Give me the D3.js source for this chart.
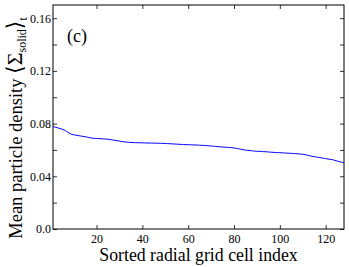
<!DOCTYPE html>
<html>
<head>
<meta charset="utf-8">
<script src="https://cdn.jsdelivr.net/npm/d3@7"></script>
<style>
  body { margin: 0; background: #fff; }
  text { font-family: "Liberation Serif", "DejaVu Serif", serif; fill: #000; }
</style>
</head>
<body>
<svg id="chart" width="349" height="267"></svg>
<script>
// sorted mean density per radial cell (index 1..128)
var density = [
  0.0777, 0.0773, 0.0768, 0.0763, 0.0757, 0.0750, 0.0740, 0.0728, 0.0719, 0.0715,
  0.0712, 0.0709, 0.0706, 0.0703, 0.0700, 0.0697, 0.0693, 0.0690, 0.0688, 0.0687,
  0.0686, 0.0685, 0.0684, 0.0683, 0.0681, 0.0679, 0.0676, 0.0673, 0.0670, 0.0667,
  0.0664, 0.0662, 0.0660, 0.0658, 0.0657, 0.0656, 0.0655, 0.0655, 0.0654, 0.0654,
  0.0653, 0.0653, 0.0652, 0.0652, 0.0652, 0.0651, 0.0651, 0.0650, 0.0650, 0.0649,
  0.0648, 0.0647, 0.0646, 0.0645, 0.0644, 0.0643, 0.0642, 0.0641, 0.0640, 0.0640,
  0.0639, 0.0638, 0.0638, 0.0637, 0.0636, 0.0635, 0.0634, 0.0633, 0.0631, 0.0630,
  0.0628, 0.0627, 0.0625, 0.0624, 0.0622, 0.0621, 0.0620, 0.0619, 0.0617, 0.0615,
  0.0612, 0.0609, 0.0605, 0.0602, 0.0599, 0.0597, 0.0595, 0.0593, 0.0591, 0.0590,
  0.0589, 0.0588, 0.0587, 0.0586, 0.0585, 0.0583, 0.0582, 0.0581, 0.0580, 0.0579,
  0.0578, 0.0577, 0.0576, 0.0575, 0.0574, 0.0573, 0.0571, 0.0570, 0.0569, 0.0567,
  0.0564, 0.0560, 0.0556, 0.0552, 0.0549, 0.0546, 0.0543, 0.0540, 0.0537, 0.0534,
  0.0531, 0.0529, 0.0526, 0.0521, 0.0516, 0.0511, 0.0507, 0.0503
];
var xTicks = [20, 40, 60, 80, 100, 120];
var yTicks = [0.00, 0.02, 0.04, 0.06, 0.08, 0.10, 0.12, 0.14, 0.16];
var yLabelled = [0.00, 0.04, 0.08, 0.12, 0.16];

var margin = {top: 5, right: 5, bottom: 38, left: 53};
var W = 349, H = 267;
var w = W - margin.left - margin.right, h = H - margin.top - margin.bottom;
var serif = '"Liberation Serif", "DejaVu Serif", serif';

var svg = d3.select('#chart');
var g = svg.append('g').attr('transform', 'translate(' + margin.left + ',' + margin.top + ')');

var x = d3.scaleLinear().domain([1, 128]).range([0, w]);
var y = d3.scaleLinear().domain([0, 0.17]).range([h, 0]);

function fmtY(d) {
  if (yLabelled.indexOf(d) == -1) return '';
  return d == 0 ? '0.0' : d3.format('.2f')(d);
}

// inward ticks on all four sides
g.append('g').attr('class', 'ax')
  .attr('transform', 'translate(0,' + h + ')')
  .call(d3.axisBottom(x).tickValues(xTicks).tickSizeInner(-4).tickSizeOuter(0).tickPadding(5));
g.append('g').attr('class', 'ax')
  .call(d3.axisTop(x).tickValues(xTicks).tickSizeInner(-4).tickSizeOuter(0).tickFormat(''));
g.append('g').attr('class', 'ax')
  .call(d3.axisLeft(y).tickValues(yTicks).tickSizeInner(-4).tickSizeOuter(0).tickPadding(2).tickFormat(fmtY));
g.append('g').attr('class', 'ax')
  .attr('transform', 'translate(' + w + ',0)')
  .call(d3.axisRight(y).tickValues(yTicks).tickSizeInner(-4).tickSizeOuter(0).tickFormat(''));

g.selectAll('.ax').attr('font-family', serif).attr('font-size', 12);
g.selectAll('.ax .domain').remove();
g.selectAll('.ax line').attr('stroke', '#333');

g.append('rect')
  .attr('x', 0).attr('y', 0).attr('width', w).attr('height', h)
  .attr('fill', 'none').attr('stroke', '#000').attr('stroke-width', 1);

var line = d3.line()
  .x(function(d, i) { return x(i + 1); })
  .y(function(d) { return y(d); });

g.append('path')
  .datum(density)
  .attr('fill', 'none')
  .attr('stroke', '#0000ff')
  .attr('stroke-width', 1)
  .attr('d', line);

g.append('text')
  .attr('x', 14).attr('y', 37)
  .style('font-size', '18px')
  .text('(c)');

svg.append('text')
  .attr('x', 198.5).attr('y', 261)
  .attr('text-anchor', 'middle')
  .style('font-size', '17.8px')
  .text('Sorted radial grid cell index');

var yl = svg.append('text')
  .attr('transform', 'translate(22,128) rotate(-90)')
  .attr('text-anchor', 'middle')
  .style('font-size', '18.5px');
yl.append('tspan').text('Mean particle density ');
yl.append('tspan').style('font-size', '22px').text('\u27E8\u03A3');
yl.append('tspan').attr('dy', 4).style('font-size', '12px').text('solid');
yl.append('tspan').attr('dy', -4).style('font-size', '22px').text('\u27E9');
yl.append('tspan').attr('dy', 5).style('font-size', '12px').text('t');
</script>
</body>
</html>
